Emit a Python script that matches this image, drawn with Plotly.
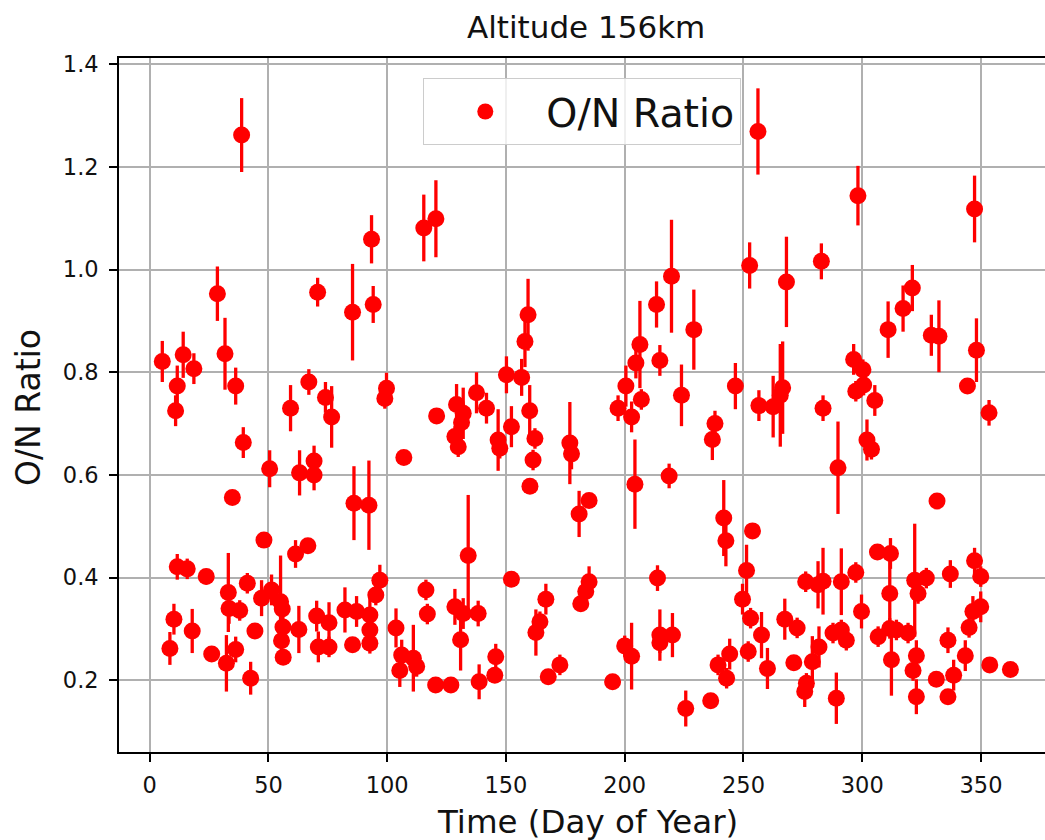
import plotly.graph_objects as go

# ---- data ----
day = [5.3, 8.5, 10.2, 10.9, 11.6, 11.6, 14.1, 15.8, 17.9, 18.6, 23.8, 26.1, 28.5, 31.7, 32.3, 33.1, 33.4, 34.8,
       36.2, 36.2, 37.9, 38.7, 39.4, 41.1, 42.5, 44.3, 47.1, 48.1, 50.5, 51.3, 55.1, 55.8, 56.1, 55.5, 56.2,
       59.3, 61.4, 62.8, 63.1, 66.6, 67.0, 69.2, 69.2, 70.3, 70.7, 71.0, 74.0, 75.5, 75.5, 76.6,
       82.2, 85.4, 85.4, 86.0, 87.1, 92.3, 92.7, 92.7, 92.7, 93.4, 94.1, 95.2, 96.9, 99.0, 99.7,
       103.7, 105.3, 106.1, 107.0, 111.0, 112.4, 115.4, 116.3, 116.9, 120.4, 120.5, 120.8, 126.8,
       128.5, 128.5, 129.2, 129.9, 130.9, 131.3, 132.0, 132.0, 134.1, 137.6, 138.3, 138.7, 141.8,
       145.3, 145.7, 146.7, 147.4, 150.2, 152.3, 152.3, 156.6, 158.0, 159.3, 160.0, 160.1, 161.4,
       162.2, 162.6, 164.3, 166.8, 167.8, 172.7,
       176.9, 177.6, 180.8, 181.5, 183.6, 185.0, 185.0, 194.9, 197.2, 200.0, 200.5, 202.9, 202.9,
       204.3, 204.7, 206.4, 207.0, 213.4, 213.8, 214.8, 214.8, 214.8, 218.7, 219.7, 220.1, 223.9,
       225.7, 229.1, 236.2, 236.9, 238.0, 239.3, 241.7, 242.6, 242.9, 244.2, 246.6, 249.6, 251.3,
       252.0, 252.6, 253.0, 253.8, 256.1, 256.5, 257.6, 260.1, 262.5, 265.5, 266.5, 267.4, 268.1,
       271.2, 272.6, 275.8, 276.2, 276.5, 279.0, 281.4, 281.8, 282.8, 283.5, 283.5, 287.7, 289.1,
       289.8, 291.2, 291.2, 293.3, 296.4, 297.3, 297.3, 298.2, 299.7, 300.3, 300.6, 302.0, 303.9,
       305.3, 306.4, 306.7, 310.9, 311.6, 311.6, 311.9, 312.3, 314.4, 317.2, 319.3, 321.1, 321.4,
       322.1, 322.8, 322.8, 323.5, 327.0, 329.1, 331.2, 331.5, 332.3, 336.1, 336.1, 337.1, 338.5,
       343.4, 344.3, 345.0, 346.6, 347.3, 347.3, 348.1, 349.9, 349.9, 353.4, 353.7, 362.4]

ratio = [0.821, 0.262, 0.319, 0.725, 0.773, 0.421, 0.834, 0.417, 0.296, 0.807, 0.402, 0.251, 0.953, 0.836, 0.233, 0.371, 0.340, 0.556,
         0.773, 0.260, 0.336, 1.262, 0.663, 0.389, 0.204, 0.296, 0.360, 0.473, 0.612, 0.376, 0.353, 0.339, 0.304, 0.277, 0.245,
         0.730, 0.446, 0.299, 0.604, 0.462, 0.781, 0.627, 0.600, 0.325, 0.956, 0.265, 0.751, 0.312, 0.265, 0.713,
         0.337, 0.917, 0.269, 0.545, 0.334, 0.541, 0.327, 0.298, 0.272, 1.059, 0.932, 0.366, 0.395, 0.749, 0.769,
         0.302, 0.219, 0.249, 0.634, 0.243, 0.227, 1.081, 0.376, 0.329, 0.191, 1.099, 0.715, 0.191,
         0.675, 0.343, 0.737, 0.655, 0.279, 0.702, 0.720, 0.330, 0.443, 0.760, 0.330, 0.197, 0.730,
         0.210, 0.246, 0.668, 0.652, 0.795, 0.694, 0.397, 0.790, 0.860, 0.912, 0.725, 0.578, 0.629,
         0.671, 0.293, 0.314, 0.358, 0.207, 0.230,
         0.662, 0.641, 0.524, 0.349, 0.373, 0.392, 0.550, 0.197, 0.730, 0.267, 0.773, 0.713, 0.247,
         0.582, 0.818, 0.854, 0.747, 0.932, 0.399, 0.823, 0.288, 0.273, 0.598, 0.987, 0.288, 0.755,
         0.145, 0.883, 0.160, 0.669, 0.700, 0.230, 0.516, 0.472, 0.204, 0.251, 0.773, 0.358, 0.414,
         0.256, 1.008, 0.321, 0.491, 1.269, 0.735, 0.288, 0.223, 0.733, 0.755, 0.770, 0.319, 0.976,
         0.234, 0.302, 0.178, 0.392, 0.194, 0.236, 0.386, 0.265, 1.016, 0.730, 0.393, 0.292, 0.165,
         0.614, 0.392, 0.298, 0.278, 0.825, 0.763, 0.410, 1.144, 0.334, 0.805, 0.775, 0.668, 0.650,
         0.745, 0.450, 0.285, 0.883, 0.369, 0.301, 0.447, 0.240, 0.298, 0.924, 0.292, 0.964, 0.219,
         0.395, 0.248, 0.168, 0.369, 0.399, 0.872, 0.202, 0.549, 0.870, 0.278, 0.168, 0.407, 0.210,
         0.248, 0.773, 0.303, 0.334, 1.118, 0.433, 0.843, 0.402, 0.343, 0.721, 0.230, 0.221]

err = [0.040, 0.032, 0.030, 0.030, 0.040, 0.025, 0.045, 0.020, 0.043, 0.030, 0.015, 0.015, 0.053, 0.070, 0.055, 0.077, 0.030, 0.010,
       0.036, 0.025, 0.020, 0.072, 0.030, 0.020, 0.032, 0.010, 0.035, 0.010, 0.036, 0.030, 0.090, 0.020, 0.020, 0.020, 0.015,
       0.045, 0.027, 0.046, 0.044, 0.010, 0.025, 0.030, 0.030, 0.030, 0.028, 0.030, 0.030, 0.040, 0.020, 0.060,
       0.044, 0.094, 0.015, 0.072, 0.030, 0.087, 0.040, 0.020, 0.020, 0.047, 0.036, 0.020, 0.030, 0.020, 0.030,
       0.038, 0.032, 0.030, 0.010, 0.065, 0.020, 0.065, 0.020, 0.020, 0.010, 0.075, 0.015, 0.010,
       0.020, 0.035, 0.040, 0.020, 0.060, 0.030, 0.050, 0.030, 0.118, 0.040, 0.025, 0.034, 0.030,
       0.015, 0.025, 0.060, 0.020, 0.036, 0.040, 0.010, 0.036, 0.050, 0.070, 0.050, 0.015, 0.020,
       0.020, 0.045, 0.020, 0.030, 0.010, 0.020,
       0.080, 0.030, 0.045, 0.010, 0.020, 0.030, 0.010, 0.010, 0.025, 0.020, 0.040, 0.030, 0.065,
       0.087, 0.030, 0.085, 0.020, 0.045, 0.025, 0.030, 0.050, 0.020, 0.024, 0.110, 0.043, 0.060,
       0.035, 0.078, 0.010, 0.040, 0.025, 0.020, 0.074, 0.050, 0.020, 0.030, 0.045, 0.030, 0.050,
       0.020, 0.045, 0.020, 0.010, 0.084, 0.030, 0.045, 0.040, 0.060, 0.100, 0.090, 0.040, 0.088,
       0.015, 0.020, 0.030, 0.020, 0.020, 0.050, 0.046, 0.040, 0.035, 0.025, 0.065, 0.020, 0.050,
       0.090, 0.065, 0.020, 0.020, 0.030, 0.020, 0.020, 0.058, 0.033, 0.020, 0.020, 0.040, 0.020,
       0.030, 0.010, 0.020, 0.055, 0.070, 0.020, 0.030, 0.070, 0.020, 0.045, 0.020, 0.045, 0.020,
       0.110, 0.030, 0.034, 0.020, 0.020, 0.040, 0.010, 0.010, 0.070, 0.025, 0.010, 0.027, 0.030,
       0.030, 0.010, 0.020, 0.030, 0.065, 0.025, 0.062, 0.020, 0.030, 0.025, 0.010, 0.010]

x_ticks = [0, 50, 100, 150, 200, 250, 300, 350]
y_ticks = [0.2, 0.4, 0.6, 0.8, 1.0, 1.2, 1.4]

title_text = "Altitude 156km"
x_label = "Time (Day of Year)"
y_label = "O/N Ratio"
series_name = "O/N Ratio"

FONT = "DejaVu Sans"

fig = go.Figure()
fig.add_trace(go.Scatter(
    x=day, y=ratio, mode="markers", name=series_name,
    marker=dict(color="red", size=17),
    error_y=dict(type="data", array=err, visible=True, color="red", thickness=3.3, width=0),
    showlegend=True,
))

# plot area: px x 119..1045, y 58..752
L, R, T, B = 119, 1045, 58, 752
W, H = R - L, B - T

def px(xp):
    return (xp - L) / W

def py(yp):
    return (B - yp) / H

fig.update_layout(
    width=1045, height=840,
    margin=dict(l=L, r=1045 - R, t=T, b=840 - B, pad=0),
    paper_bgcolor="white", plot_bgcolor="white",
    font=dict(family=FONT, color="black"),
    xaxis=dict(
        range=[-12.93, 376.96], tickvals=x_ticks, ticktext=[str(v) for v in x_ticks],
        showgrid=True, gridcolor="#b0b0b0", gridwidth=1.5, zeroline=False,
        showline=True, linecolor="black", linewidth=1.7, mirror=True,
        ticks="outside", ticklen=8, tickwidth=1.7, tickcolor="black",
        ticklabelstandoff=4,
        tickfont=dict(size=22.5, family=FONT, color="#111"),
    ),
    yaxis=dict(
        range=[0.0603, 1.4121], tickvals=y_ticks, ticktext=["%.1f" % v for v in y_ticks],
        showgrid=True, gridcolor="#b0b0b0", gridwidth=1.5, zeroline=False,
        showline=True, linecolor="black", linewidth=1.7, mirror=False,
        ticks="outside", ticklen=8, tickwidth=1.7, tickcolor="black",
        ticklabelstandoff=6,
        tickfont=dict(size=22.5, family=FONT, color="#111"),
    ),
    legend=dict(
        x=px(423), y=py(78), xanchor="left", yanchor="top",
        bgcolor="rgba(255,255,255,0.8)", bordercolor="#cccccc", borderwidth=1.3,
        font=dict(size=39.5, family=FONT, color="#111"),
        itemwidth=112,
    ),
    annotations=[
        dict(text=title_text, x=px(586), y=py(27), xref="paper", yref="paper",
             xanchor="center", yanchor="middle", showarrow=False,
             font=dict(size=31, family=FONT, color="#111")),
        dict(text=x_label, x=px(587), y=py(821.5), xref="paper", yref="paper",
             xanchor="center", yanchor="middle", showarrow=False,
             font=dict(size=32.5, family=FONT, color="#111")),
        dict(text=y_label, x=px(28.5), y=py(407.5), xref="paper", yref="paper",
             xanchor="center", yanchor="middle", showarrow=False, textangle=-90,
             font=dict(size=33, family=FONT, color="#111")),
    ],
)

fig.write_html("out.html")
